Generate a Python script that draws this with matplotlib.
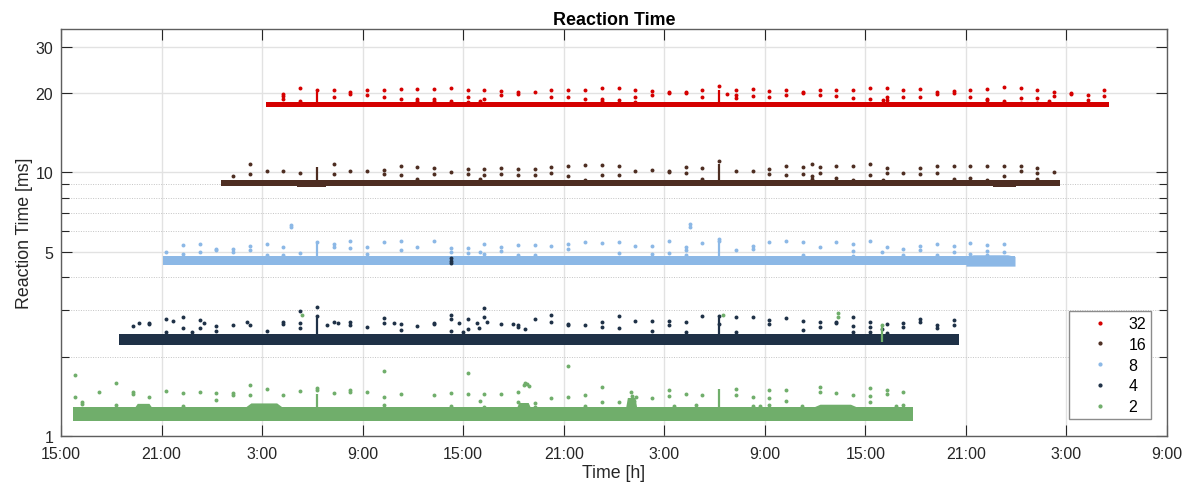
import matplotlib
matplotlib.use('Agg')
import matplotlib.pyplot as plt
from matplotlib.lines import Line2D
from matplotlib.ticker import FixedLocator, NullFormatter

plt.rcParams['font.family'] = ['Liberation Sans', 'DejaVu Sans']

# ---------------- data (hours after 15:00 of day 1) ----------------
series_names = ['32', '16', '8', '4', '2']
series_colors = ['#d50000', '#4e2e22', '#8cb8e6', '#1f3147', '#70ae6b']

x_ticks_h = [0, 6, 12, 18, 24, 30, 36, 42, 48, 54, 60, 66]
x_tick_labels = ['15:00', '21:00', '3:00', '9:00', '15:00', '21:00',
                 '3:00', '9:00', '15:00', '21:00', '3:00', '9:00']
y_ticks = [1, 5, 10, 20, 30]
y_limits = [1, 35]

# dense band of each series: start, end, lower edge, upper edge
band_start = [12.23, 9.53, 6.09, 3.46, 0.73]
band_end = [62.54, 59.61, 56.93, 53.60, 50.85]
band_low = [17.72, 8.86, 4.44, 2.22, 1.138]
band_high = [18.42, 9.36, 4.80, 2.44, 1.288]

# local widenings of the bands: (t0, t1, low, high)
red_band_extra = []
brown_band_extra = [(14.1, 15.8, 8.78, 9.30), (55.6, 57.0, 8.78, 9.30)]
blue_band_extra = [(54.0, 56.93, 4.41, 4.87)]
navy_band_extra = [(3.46, 28.0, 2.205, 2.43)]
green_band_extra = [(4.4, 5.4, 1.15, 1.33), (11.0, 13.2, 1.15, 1.335),
                    (27.2, 28.0, 1.15, 1.34), (33.7, 34.35, 1.15, 1.40),
                    (44.9, 47.5, 1.15, 1.32)]

# vertical spikes: (t, bottom, top)
red_spikes = [(15.27, 18.3, 20.2), (39.27, 18.3, 20.6)]
brown_spikes = [(15.27, 9.3, 10.48), (39.27, 9.3, 10.73)]
blue_spikes = [(15.27, 4.75, 5.40), (39.27, 4.75, 5.50)]
navy_spikes = [(15.27, 2.42, 2.80), (39.27, 2.42, 2.80)]
green_spikes = [(15.27, 1.28, 1.44), (39.27, 1.28, 1.51), (49.0, 2.28, 2.64)]

# isolated points: (t, [values])
red_points = [
    (13.27, [19.9, 19.45, 19.0]), (14.27, [20.9, 18.7]), (15.27, [20.6]),
    (16.27, [20.6, 19.3]), (17.27, [20.2, 19.9]), (18.27, [20.6, 19.7]),
    (19.27, [20.6, 19.3]), (20.27, [20.8, 19.05]), (21.27, [20.8, 18.95, 18.7]),
    (22.27, [20.8, 18.95, 18.7]), (23.27, [20.9, 18.7]), (24.27, [20.6, 19.3, 18.5]),
    (25.0, [18.7]), (25.27, [20.6, 19.05]), (26.27, [20.4, 19.7]),
    (27.27, [20.2, 19.9]), (28.27, [20.1]), (29.27, [20.5, 19.3]),
    (30.27, [20.6, 19.3]), (31.27, [20.6, 19.05]), (32.27, [20.9, 18.95, 18.7]),
    (33.27, [20.9, 18.8]), (34.27, [20.6, 19.3, 18.5]), (35.27, [20.4, 19.75]),
    (36.27, [20.2, 20.05]), (37.27, [20.2, 20.05]), (38.27, [20.6, 19.3]),
    (39.27, [21.3]), (39.73, [19.9]), (40.27, [20.6, 19.7, 19.2]),
    (41.27, [20.8, 19.5]), (42.27, [20.4, 19.3]), (43.27, [20.6, 19.75]),
    (44.27, [20.2, 20.05]), (45.27, [20.5, 19.75]), (46.27, [20.6, 19.45]),
    (47.27, [20.6, 19.2]), (48.27, [20.85, 19.05]), (49.03, [18.85]),
    (49.27, [20.9, 19.3, 18.8]), (50.27, [20.6, 19.3]), (51.27, [20.7, 19.35]),
    (52.27, [20.2, 19.9]), (53.27, [20.3, 20.05]), (54.27, [20.6, 19.35]),
    (55.27, [20.7, 19.05, 18.8]), (56.27, [21.0, 18.7]), (57.27, [20.85, 19.1, 18.4]),
    (58.27, [20.5, 19.1, 18.4]), (58.96, [18.7]), (59.27, [20.2, 19.45]),
    (60.27, [20.0, 19.9]), (61.27, [19.7, 18.9]), (62.27, [20.5, 19.45]),
]
brown_points = [
    (10.27, [9.69]), (11.27, [10.79, 9.86]), (12.27, [10.12]), (13.27, [10.12]),
    (14.27, [9.99]), (16.27, [10.79, 9.82]), (17.27, [10.12]), (18.27, [10.09]),
    (19.27, [10.25, 9.86]), (20.27, [10.57, 9.76]), (21.27, [10.48, 9.46]),
    (22.27, [10.42, 9.9]), (23.27, [10.03]), (24.27, [10.33, 9.86]), (25.0, [9.46]),
    (25.27, [10.33, 9.76]), (26.27, [10.39, 9.86]), (27.27, [10.33, 9.76]),
    (28.27, [10.33, 9.76]), (29.27, [10.51, 9.97]), (30.27, [10.62, 9.66]),
    (31.27, [10.68, 9.38]), (32.27, [10.68, 9.76]), (33.27, [10.57, 9.76]),
    (34.27, [10.12]), (35.27, [10.25]), (36.27, [10.12, 10.03]),
    (37.27, [10.48, 9.97]), (38.27, [10.42, 9.46]), (39.27, [11.05]),
    (40.27, [10.12]), (41.27, [10.09]), (42.27, [10.33, 9.86]),
    (43.27, [10.55, 9.76]), (44.27, [10.48, 9.82]), (44.82, [10.77, 9.66, 9.46]),
    (45.27, [10.48, 9.94]), (46.27, [10.57, 9.52]), (47.27, [10.62, 9.38]),
    (48.27, [10.72, 9.76]), (49.03, [9.38]), (49.27, [10.42, 9.94]),
    (50.27, [9.99]), (51.27, [10.39, 9.82]), (52.27, [10.62, 9.97]),
    (53.27, [10.55, 9.46]), (54.27, [10.6, 9.52]), (55.27, [10.55, 9.38]),
    (56.27, [10.55, 9.69]), (57.27, [10.57, 10.09]), (58.27, [10.42, 9.94, 9.4]),
    (59.27, [10.03]),
]
blue_points = [
    (6.27, [5.01]), (7.27, [5.31, 4.91]), (8.27, [5.33, 4.98]), (9.27, [5.13, 5.06]),
    (10.27, [5.13, 4.98]), (11.27, [5.25, 5.06]), (12.27, [5.35, 4.84]),
    (13.27, [5.2, 4.84]), (13.71, [6.33, 6.2]), (14.27, [4.95]), (15.27, [5.44]),
    (16.27, [5.36, 5.2]), (17.27, [5.47, 5.17]), (18.27, [5.2, 4.91]),
    (19.27, [5.44]), (20.27, [5.49, 5.09]), (21.27, [5.2]), (22.27, [5.49]),
    (23.27, [5.17, 4.98]), (24.27, [5.16, 4.95]), (25.0, [4.98]),
    (25.27, [5.36, 4.91]), (26.27, [5.2, 5.02]), (27.27, [5.31, 4.87]),
    (28.27, [5.31, 4.88]), (29.27, [5.28]), (30.27, [5.36, 5.13]), (31.27, [5.44]),
    (32.27, [5.41]), (33.27, [5.44, 4.94]), (34.27, [5.28]), (35.27, [5.28, 4.91]),
    (36.27, [5.47, 4.94]), (37.27, [5.2, 5.06, 4.87]), (37.55, [6.38, 6.2]),
    (38.27, [5.41]), (39.27, [5.59, 5.5]), (40.27, [5.06]), (41.27, [5.25, 5.13]),
    (42.27, [5.44]), (43.27, [5.47]), (44.27, [5.44, 4.88]), (45.27, [5.23]),
    (46.27, [5.44]), (47.27, [5.33, 5.02, 4.81]), (48.27, [5.47]), (49.01, [4.98]),
    (49.27, [5.19]), (50.27, [5.13, 4.87]), (51.27, [5.25, 5.09]),
    (52.27, [5.36, 4.88]), (53.27, [5.28, 4.97]), (54.27, [5.42, 4.91]),
    (55.27, [5.31, 5.04, 4.88]), (56.27, [5.36, 4.97]),
]
navy_points = [
    (4.27, [2.61]), (4.67, [2.69]), (5.27, [2.68, 2.65]), (6.27, [2.77, 2.48]),
    (6.7, [2.72]), (7.27, [2.83, 2.57]), (7.8, [2.48]), (8.27, [2.76, 2.57]),
    (8.53, [2.69]), (9.27, [2.61, 2.51]), (10.27, [2.64]), (11.08, [2.71]),
    (11.27, [2.64]), (12.27, [2.51]), (13.27, [2.71, 2.66]),
    (14.27, [2.97, 2.69, 2.57]), (15.27, [3.08, 2.86]), (15.86, [2.64]),
    (16.27, [2.71]), (16.51, [2.69]), (17.27, [2.71, 2.63]), (18.27, [2.59]),
    (19.27, [2.81, 2.68]), (19.89, [2.68]), (20.27, [2.66, 2.53]), (21.27, [2.61]),
    (22.27, [2.69, 2.66]), (23.27, [2.88, 2.78, 2.5, 4.72, 4.62, 4.52]),
    (23.77, [2.68]), (23.97, [2.49]), (24.27, [2.78, 2.55]), (24.8, [2.69]),
    (24.94, [2.57]), (25.27, [3.06, 2.83]), (25.44, [2.71]), (26.27, [2.66]),
    (26.95, [2.67]), (27.27, [2.64, 2.6]), (27.71, [2.55]), (28.27, [2.78]),
    (29.27, [2.88, 2.71]), (30.27, [2.66, 2.63]), (31.27, [2.63]),
    (32.27, [2.7, 2.59]), (33.27, [2.86, 2.58]), (34.27, [2.73]),
    (35.27, [2.74, 2.51]), (36.27, [2.73, 2.64]), (37.27, [2.71, 2.48]),
    (38.27, [2.86]), (39.27, [2.86, 2.66]), (40.27, [2.83, 2.48]), (41.27, [2.84]),
    (42.27, [2.76, 2.66]), (43.27, [2.8]), (44.27, [2.73, 2.53]),
    (45.27, [2.71, 2.59]), (46.27, [2.71, 2.68]), (47.27, [2.84, 2.61, 2.49]),
    (48.27, [2.71, 2.59, 2.49]), (49.0, [2.55]), (49.27, [2.65, 2.46]),
    (50.27, [2.68, 2.59]), (51.27, [2.77, 2.7]), (52.27, [2.64, 2.57]),
    (53.27, [2.76, 2.63]),
]
green_points = [
    (0.84, [1.71, 1.41]), (1.27, [1.35, 1.32]), (2.27, [1.465]), (3.27, [1.585, 1.315]),
    (4.27, [1.465, 1.44]), (5.27, [1.41]), (6.27, [1.487]), (7.27, [1.45, 1.30]),
    (8.27, [1.47]), (9.27, [1.45, 1.366]), (10.27, [1.45, 1.43]), (11.27, [1.56, 1.43]),
    (12.27, [1.51]), (13.27, [1.43]), (14.27, [1.48]), (14.4, [2.89]),
    (15.27, [1.52, 1.49]), (16.27, [1.457]), (17.27, [1.50, 1.47]), (18.27, [1.47]),
    (19.27, [1.76, 1.41, 1.31]), (20.27, [1.44]), (22.27, [1.435]),
    (23.27, [1.457, 1.30]), (24.27, [1.735, 1.44]), (25.0, [1.36]),
    (25.27, [1.44, 1.29]), (26.27, [1.448]), (27.27, [1.465, 1.346]),
    (27.6, [1.56]), (27.7, [1.585]), (27.8, [1.57]), (27.9, [1.55]),
    (28.27, [1.335, 1.29]), (29.27, [1.39]), (30.27, [1.84, 1.40]),
    (31.27, [1.435, 1.30]), (32.27, [1.53, 1.34]), (33.27, [1.343]),
    (34.0, [1.47]), (34.1, [1.42]), (34.2, [1.36]), (34.3, [1.40]), (35.27, [1.39]),
    (36.27, [1.495, 1.42]), (36.56, [1.30]), (37.27, [1.44]), (37.89, [1.315]),
    (38.27, [1.427]), (39.48, [2.88]), (40.27, [1.513, 1.427]), (41.27, [1.41, 1.30]),
    (41.71, [1.30]), (42.27, [1.50, 1.394, 1.315]), (43.27, [1.495, 1.36]),
    (44.22, [1.30]), (45.27, [1.53, 1.47]), (46.27, [1.453]), (46.35, [2.93, 2.84]),
    (47.27, [1.431]), (48.27, [1.525, 1.42, 1.34]), (49.0, [2.64]),
    (49.27, [1.495, 1.448]), (49.83, [1.30]), (50.27, [1.465, 1.315]),
]

band_extras = [red_band_extra, brown_band_extra, blue_band_extra, navy_band_extra, green_band_extra]
spikes = [red_spikes, brown_spikes, blue_spikes, navy_spikes, green_spikes]
points = [red_points, brown_points, blue_points, navy_points, green_points]

# ---------------- figure ----------------
fig = plt.figure(figsize=(11.86, 4.89), dpi=100)
ax = fig.add_axes([61 / 1186, 52 / 489, 1106 / 1186, 407 / 489])
ax.set_yscale('log')
ax.set_xlim(x_ticks_h[0], x_ticks_h[-1])
ax.set_ylim(*y_limits)

for i in range(len(series_names)):
    c = series_colors[i]
    ax.fill_between([band_start[i], band_end[i]], [band_low[i]] * 2, [band_high[i]] * 2,
                    color=c, lw=0, zorder=3 + i)
    for (t0, t1, lo, hi) in band_extras[i]:
        ramp = 0.15 * (t1 - t0)
        ax.fill_between([t0, t0 + ramp, t1 - ramp, t1], [lo] * 4,
                        [band_high[i], hi, hi, band_high[i]] if hi > band_high[i] else [hi] * 4,
                        color=c, lw=0, zorder=3 + i)
    for (t, b, top) in spikes[i]:
        ax.vlines(t, b, top, color=c, lw=1.6, zorder=3 + i)
    ts, vs = [], []
    for (t, vals) in points[i]:
        for v in vals:
            ts.append(t)
            vs.append(v)
    ax.scatter(ts, vs, s=8, color=c, marker='o', linewidths=0, zorder=3 + i)

# ticks & grid
ax.set_xticks(x_ticks_h)
ax.set_xticklabels(x_tick_labels)
ax.yaxis.set_major_locator(FixedLocator(y_ticks))
ax.set_yticklabels([str(v) for v in y_ticks])
minor = [2, 3, 4, 6, 7, 8, 9]
ax.yaxis.set_minor_locator(FixedLocator(minor))
ax.yaxis.set_minor_formatter(NullFormatter())
ax.tick_params(axis='both', which='major', direction='in', length=8, width=0.8,
               colors='#262626', labelsize=11.5, top=True, right=True)
ax.tick_params(axis='x', which='major', pad=7.2)
ax.tick_params(axis='y', which='major', pad=5.5)
ax.tick_params(axis='y', which='minor', direction='in', length=6, width=0.8,
               colors='#262626', left=True, right=True)
ax.grid(True, which='major', axis='both', color='#e2e2e2', lw=1.0, ls='-')
ax.grid(True, which='minor', axis='y', color='#c4c4c4', lw=0.7, ls=(0, (1, 1.5)))
ax.set_axisbelow(True)
for s in ax.spines.values():
    s.set_color('#5e5e5e')
    s.set_linewidth(1.0)

ax.set_title('Reaction Time', fontsize=12.9, fontweight='bold', pad=3.5, color='black')
ax.set_xlabel('Time [h]', fontsize=12.8, labelpad=2.0, color='#262626')
ax.set_ylabel('Reaction Time [ms]', fontsize=12.8, labelpad=2, color='#262626')

handles = [Line2D([], [], marker='.', ls='none', color=c, markersize=4) for c in series_colors]
leg = ax.legend(handles, series_names, loc='lower right', bbox_to_anchor=(0.9855, 0.0418),
                borderaxespad=0, fontsize=11.5, frameon=True, fancybox=False,
                edgecolor='#8c8c8c', framealpha=1, borderpad=0.3, handlelength=3.2,
                handletextpad=0.2, labelspacing=0.36)
leg.get_frame().set_linewidth(1.0)
leg.set_zorder(20)

fig.savefig('out.png', dpi=100)
